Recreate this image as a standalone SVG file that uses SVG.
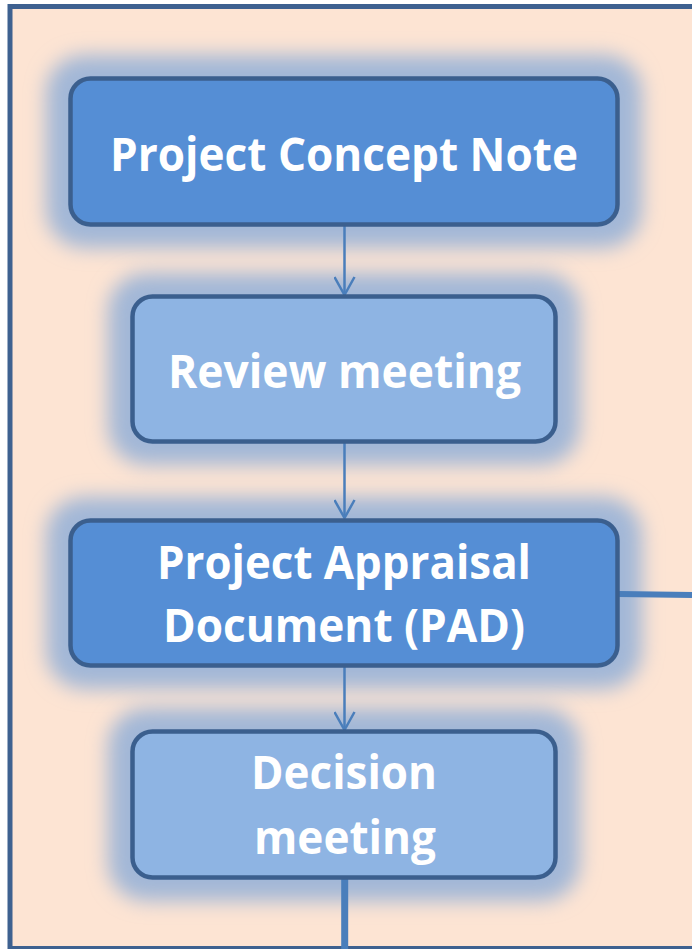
<svg xmlns="http://www.w3.org/2000/svg" width="692" height="949" viewBox="0 0 692 949">
<style>
.frame{fill:#FDE4D3;stroke:#3E6190;stroke-width:5}
.dark{fill:#558ED5;stroke:#3B5F8E;stroke-width:4.5}
.light{fill:#8EB4E3;stroke:#3B5F8E;stroke-width:4.5}
.glow{fill:#A2B7D7;filter:url(#blur)}
.lbl{font-family:"Open Sans","Liberation Sans",sans-serif;font-weight:bold;font-size:47px;fill:#FFFFFF;text-anchor:middle}
.thin{stroke:#4A7EBB;stroke-width:2.5;fill:none}
.thick{stroke:#4A7EBB;fill:none}
</style>
<defs>
<filter id="blur" x="-20%" y="-40%" width="140%" height="180%"><feGaussianBlur stdDeviation="10"/></filter>
<marker id="arr" markerUnits="userSpaceOnUse" markerWidth="24" markerHeight="22" refX="20" refY="11" orient="auto" viewBox="0 0 24 22">
<path d="M2,1 L20,11 L2,21" fill="none" stroke="#4A7EBB" stroke-width="2.5"/>
</marker>
</defs>
<rect width="692" height="949" fill="#FFFFFF"/>
<rect class="frame" x="10" y="6.5" width="700" height="942"/>
<g id="glows">
<rect class="glow" x="46" y="55" width="596" height="193" rx="38"/>
<rect class="glow" x="108" y="273" width="472" height="192" rx="38"/>
<rect class="glow" x="46" y="497" width="596" height="192" rx="38"/>
<rect class="glow" x="108" y="708" width="472" height="193" rx="38"/>
</g>
<g id="connectors">
<line class="thin" x1="344.5" y1="225" x2="344.5" y2="295" marker-end="url(#arr)"/>
<line class="thin" x1="344.5" y1="443" x2="344.5" y2="518" marker-end="url(#arr)"/>
<line class="thin" x1="344.5" y1="666" x2="344.5" y2="730" marker-end="url(#arr)"/>
<line class="thick" x1="619" y1="594" x2="692" y2="595" stroke-width="6"/>
<line class="thick" x1="344.7" y1="879" x2="344.7" y2="949" stroke-width="7"/>
</g>
<g id="node-concept">
<rect class="dark" x="70.5" y="78.5" width="547" height="146" rx="20"/>
<text class="lbl" x="344" y="171" textLength="468" lengthAdjust="spacingAndGlyphs">Project Concept Note</text>
</g>
<g id="node-review">
<rect class="light" x="132.5" y="296.5" width="423" height="145" rx="20"/>
<text class="lbl" x="344.5" y="388" textLength="353" lengthAdjust="spacingAndGlyphs">Review meeting</text>
</g>
<g id="node-pad">
<rect class="dark" x="70.5" y="520.5" width="547" height="145" rx="20"/>
<text class="lbl" x="344" y="579" textLength="374" lengthAdjust="spacingAndGlyphs">Project Appraisal</text>
<text class="lbl" x="344" y="642" textLength="362" lengthAdjust="spacingAndGlyphs">Document (PAD)</text>
</g>
<g id="node-decision">
<rect class="light" x="132.5" y="731.5" width="423" height="146" rx="20"/>
<text class="lbl" x="344" y="789" textLength="186" lengthAdjust="spacingAndGlyphs">Decision</text>
<text class="lbl" x="345" y="854" textLength="182" lengthAdjust="spacingAndGlyphs">meeting</text>
</g>
</svg>
